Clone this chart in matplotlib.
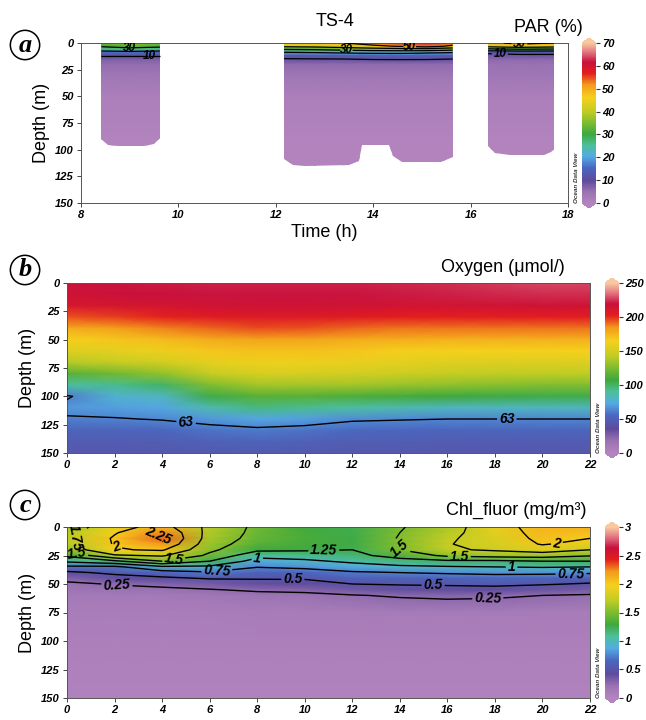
import numpy as np
import matplotlib
matplotlib.use("Agg")
import matplotlib.pyplot as plt
from matplotlib.colors import LinearSegmentedColormap
from matplotlib.patches import Polygon

plt.rcParams['font.family'] = ['Liberation Sans', 'DejaVu Sans']

# ---------------- data ----------------
# panel a: PAR (%) for three casts, one profile per time column
par_depth = [0, 3, 6, 9, 12, 16, 20, 30, 40, 50, 70, 90, 100, 115]
par_levels = [10, 20, 30, 40, 50]

cast1_time = [8.42, 9.0, 9.62]
cast1_par = [
    [33, 31, 25, 15, 10, 7, 5.5, 4, 3, 1.5, 1, 0.5, 0.5, 0.5],
    [36, 33, 27, 16, 10, 7, 5.5, 4, 3, 1.5, 1, 0.5, 0.5, 0.5],
    [34, 32, 25, 15, 10, 7, 5.5, 4, 3, 1.5, 1, 0.5, 0.5, 0.5],
]
cast1_bot_time = [8.42, 8.55, 8.75, 9.3, 9.5, 9.62]
cast1_bot_depth = [90, 96, 97, 97, 95, 89]

cast2_time = [12.17, 12.8, 13.4, 14.0, 14.6, 15.1, 15.63]
cast2_par = [
    [47, 42, 30, 19, 12, 9, 6, 4, 3, 1.5, 1, 0.5, 0.5, 0.5],
    [48, 43, 31, 20, 12.5, 9, 6, 4, 3, 1.5, 1, 0.5, 0.5, 0.5],
    [50, 45, 33, 21, 13, 9, 6, 4, 3, 1.5, 1, 0.5, 0.5, 0.5],
    [54, 48, 35, 22, 13.5, 9.5, 6, 4, 3, 1.5, 1, 0.5, 0.5, 0.5],
    [58, 51, 36, 22, 14, 9.5, 6, 4, 3, 1.5, 1, 0.5, 0.5, 0.5],
    [63, 54, 36, 21, 13.5, 9.5, 6, 4, 3, 1.5, 1, 0.5, 0.5, 0.5],
    [55, 48, 33, 20, 13, 9, 6, 4, 3, 1.5, 1, 0.5, 0.5, 0.5],
]
cast2_bot_time = [12.17, 12.35, 12.6, 13.5, 13.7, 13.76, 14.32, 14.4, 14.6, 15.4, 15.63]
cast2_bot_depth = [109, 114, 115, 114, 111, 95.5, 95.5, 106, 111.5, 111.5, 107]

cast3_time = [16.36, 17.0, 17.71]
cast3_par = [
    [48, 43, 27, 11, 8, 6, 5, 4, 3, 1.5, 1, 0.5, 0.5, 0.5],
    [52, 46, 29, 12, 8.5, 6, 5, 4, 3, 1.5, 1, 0.5, 0.5, 0.5],
    [50, 44, 28, 12, 8.5, 6, 5, 4, 3, 1.5, 1, 0.5, 0.5, 0.5],
]
cast3_bot_time = [16.36, 16.5, 16.8, 17.5, 17.65, 17.71]
cast3_bot_depth = [97, 103, 105, 105, 102, 99]

# panel b: oxygen (umol/l), one profile per hour column
oxy_time = [0, 2, 4, 6, 8, 10, 12, 14, 16, 18, 20, 22]
oxy_depth = [0, 10, 20, 30, 40, 50, 60, 70, 80, 90, 100, 110, 120, 130, 140, 150]
oxy_values = [
    [218, 215, 210, 195, 178, 165, 155, 140, 115, 88, 61, 68, 61, 52, 47, 44],
    [220, 218, 212, 198, 182, 168, 158, 145, 122, 92, 78, 70, 62, 52, 47, 44],
    [221, 219, 213, 202, 188, 172, 162, 150, 130, 100, 82, 72, 64, 54, 48, 44],
    [222, 220, 215, 205, 192, 178, 168, 158, 145, 125, 105, 85, 68, 58, 50, 45],
    [222, 220, 216, 207, 196, 180, 170, 162, 152, 135, 115, 95, 72, 60, 52, 46],
    [222, 220, 216, 207, 195, 180, 170, 162, 152, 135, 115, 92, 70, 58, 50, 45],
    [222, 220, 215, 205, 192, 178, 168, 160, 150, 135, 112, 88, 65, 55, 48, 44],
    [223, 221, 214, 203, 190, 177, 166, 158, 148, 132, 110, 85, 64, 54, 48, 44],
    [224, 222, 214, 203, 190, 176, 165, 156, 145, 130, 108, 82, 63, 53, 47, 44],
    [226, 223, 215, 203, 190, 176, 165, 155, 143, 128, 106, 82, 63, 53, 47, 44],
    [228, 224, 216, 204, 190, 176, 165, 155, 142, 126, 105, 82, 63, 53, 47, 44],
    [228, 224, 216, 204, 190, 176, 165, 155, 142, 126, 105, 82, 63, 53, 47, 44],
]

# panel c: chlorophyll fluorescence (mg/m3)
chl_time = [0, 2, 4, 6, 8, 10, 12, 14, 16, 18, 20, 22]
chl_depth = [0, 5, 10, 15, 20, 25, 30, 35, 40, 45, 50, 55, 60, 75, 100, 150]
chl_levels = [0.25, 0.5, 0.75, 1, 1.25, 1.5, 1.75, 2, 2.25]
chl_values = [
    [1.62, 1.68, 1.7, 1.68, 1.6, 1.3, 1.05, 0.7, 0.45, 0.3, 0.22, 0.17, 0.13, 0.09, 0.06, 0.03],
    [1.9, 1.98, 2.03, 2.02, 1.98, 1.72, 1.2, 0.7, 0.55, 0.4, 0.26, 0.2, 0.14, 0.09, 0.06, 0.03],
    [2.1, 2.24, 2.3, 2.22, 2.03, 1.78, 1.5, 0.95, 0.65, 0.45, 0.3, 0.21, 0.14, 0.09, 0.06, 0.03],
    [1.68, 1.66, 1.64, 1.6, 1.55, 1.45, 1.25, 0.95, 0.72, 0.52, 0.35, 0.24, 0.16, 0.09, 0.06, 0.03],
    [1.45, 1.44, 1.42, 1.38, 1.3, 1.08, 0.9, 0.76, 0.62, 0.52, 0.4, 0.28, 0.19, 0.1, 0.06, 0.03],
    [1.3, 1.32, 1.33, 1.32, 1.28, 1.12, 0.95, 0.8, 0.64, 0.52, 0.42, 0.3, 0.2, 0.1, 0.06, 0.03],
    [1.25, 1.26, 1.27, 1.27, 1.25, 1.18, 1.05, 0.88, 0.72, 0.6, 0.5, 0.36, 0.24, 0.1, 0.06, 0.03],
    [1.48, 1.5, 1.52, 1.52, 1.5, 1.35, 1.15, 0.95, 0.75, 0.6, 0.52, 0.4, 0.27, 0.11, 0.06, 0.03],
    [1.65, 1.68, 1.72, 1.74, 1.72, 1.55, 1.2, 0.98, 0.78, 0.62, 0.53, 0.42, 0.29, 0.11, 0.06, 0.03],
    [1.9, 1.88, 1.85, 1.82, 1.78, 1.6, 1.2, 1.0, 0.8, 0.65, 0.55, 0.42, 0.28, 0.11, 0.06, 0.03],
    [2.1, 2.08, 2.06, 2.02, 1.86, 1.62, 1.25, 1.02, 0.8, 0.63, 0.52, 0.38, 0.25, 0.1, 0.06, 0.03],
    [2.12, 2.06, 2.0, 1.9, 1.75, 1.52, 1.25, 1.0, 0.78, 0.6, 0.48, 0.35, 0.23, 0.1, 0.06, 0.03],
]

# ODV-like colour scale
odv = LinearSegmentedColormap.from_list("odv", [
    (0.00, '#b384be'), (0.07, '#9a72b2'), (0.14, '#5e4b9c'), (0.22, '#4a68c0'),
    (0.29, '#55aae4'), (0.36, '#4cbf9c'), (0.43, '#3ea83e'), (0.50, '#7cbc30'),
    (0.57, '#c0cc24'), (0.66, '#f5d01c'), (0.74, '#f39a1c'), (0.81, '#e31e1e'),
    (0.88, '#c8103c'), (0.94, '#e0707e'), (1.00, '#f8c8a0')])

fig = plt.figure(figsize=(6.46, 7.2), dpi=100)


def style_axes(ax, xmin, xmax, xticks):
    ax.set_xlim(xmin, xmax)
    ax.set_ylim(150, 0)
    ax.set_xticks(xticks)
    ax.set_yticks([0, 25, 50, 75, 100, 125, 150])
    for lab in ax.get_xticklabels() + ax.get_yticklabels():
        lab.set_fontweight('bold')
        lab.set_fontstyle('italic')
        lab.set_fontsize(8)
    ax.tick_params(length=3, width=0.7, color='#444444', pad=2)
    for s in ax.spines.values():
        s.set_color('#555555')
        s.set_linewidth(0.7)
    ax.set_ylabel('Depth (m)', fontsize=13, labelpad=4)


def add_cbar(mesh, rect, ticks):
    cax = fig.add_axes(rect)
    cb = fig.colorbar(mesh, cax=cax, ticks=ticks, extend='both', extendfrac=0.03, format='%g')
    cb.outline.set_visible(False)
    cax.tick_params(length=3, width=0.8, color='#333333', pad=1.5)
    for lab in cax.get_yticklabels():
        lab.set_fontweight('bold')
        lab.set_fontstyle('italic')
        lab.set_fontsize(8)
    return cb


def labelled_contours(ax, X, Y, Z, levels, label_levels, positions, fontsize, lw, zorder=3):
    # plain lines for unlabelled levels, labelled set drawn separately
    plain = [lv for lv in levels if lv not in label_levels]
    if plain:
        ax.contour(X, Y, Z, levels=plain, colors='black', linewidths=lw, zorder=zorder)
    cs = ax.contour(X, Y, Z, levels=sorted(label_levels), colors='black',
                    linewidths=lw, zorder=zorder)
    txt = ax.clabel(cs, fmt='%g', inline=True, fontsize=fontsize, inline_spacing=2,
                    manual=positions)
    for t in txt:
        t.set_fontweight('bold')
        t.set_fontstyle('italic')


def panel_letter(x, y, letter):
    fig.text(x, y, letter, fontsize=19, fontweight='bold', fontstyle='italic',
             family=['Liberation Serif', 'DejaVu Serif'], ha='center', va='center',
             bbox=dict(boxstyle='circle,pad=0.12', fc='white', ec='black', lw=1.1))


def odv_tag(ax):
    ax.text(1.012, 0.0, 'Ocean Data View', transform=ax.transAxes, rotation=90,
            fontsize=4.5, fontweight='bold', fontstyle='italic', ha='left', va='bottom',
            color='#333333')


# ---------------- panel a ----------------
axa = fig.add_axes([81 / 646, 1 - 203 / 720, 487 / 646, 160 / 720])
par_norm = plt.Normalize(0, 70)
casts = [(cast1_time, cast1_par, cast1_bot_time, cast1_bot_depth,
          [10, 30], [(9.4, 11), (9.0, 4)]),
         (cast2_time, cast2_par, cast2_bot_time, cast2_bot_depth,
          [30, 50], [(13.45, 6), (14.75, 3)]),
         (cast3_time, cast3_par, cast3_bot_time, cast3_bot_depth,
          [10, 50], [(16.6, 10), (17.0, 1)])]
for t, prof, bt, bd, lab_levels, lab_pos in casts:
    T, D = np.meshgrid(t, par_depth)
    vals = np.array(prof).T
    outline = [(t[0], 0), (t[-1], 0)] + list(zip(bt[::-1], bd[::-1]))
    clip = Polygon(outline, closed=True, transform=axa.transData, fc='none', ec='none')
    axa.add_patch(clip)
    mesh_a = axa.pcolormesh(T, D, vals, cmap=odv, norm=par_norm, shading='gouraud', zorder=1)
    mesh_a.set_clip_path(clip)
    labelled_contours(axa, T, D, vals, par_levels, lab_levels, lab_pos, 8.5, 0.9)
style_axes(axa, 8, 18, [8, 10, 12, 14, 16, 18])
axa.set_xlabel('Time (h)', fontsize=13, labelpad=3)
odv_tag(axa)
add_cbar(mesh_a, [582 / 646, 1 - 208 / 720, 14 / 646, 170 / 720], [0, 10, 20, 30, 40, 50, 60, 70])
fig.text(335 / 646, 1 - 22 / 720, 'TS-4', fontsize=13, ha='center', va='center')
fig.text(583 / 646, 1 - 28 / 720, 'PAR (%)', fontsize=13, ha='right', va='center')
panel_letter(25 / 646, 1 - 45 / 720, 'a')

# ---------------- panel b ----------------
axb = fig.add_axes([67 / 646, 1 - 453 / 720, 523 / 646, 170 / 720])
T, D = np.meshgrid(oxy_time, oxy_depth)
ox = np.array(oxy_values).T
mesh_b = axb.pcolormesh(T, D, ox, cmap=odv, norm=plt.Normalize(0, 250), shading='gouraud')
labelled_contours(axb, T, D, ox, [63], [63], [(5.0, 125), (18.5, 120)], 10, 1.0)
style_axes(axb, 0, 22, list(range(0, 23, 2)))
odv_tag(axb)
add_cbar(mesh_b, [605 / 646, 1 - 458 / 720, 14 / 646, 180 / 720], [0, 50, 100, 150, 200, 250])
fig.text(565 / 646, 1 - 268 / 720, 'Oxygen (\u03bcmol/)', fontsize=13, ha='right', va='center')
panel_letter(25 / 646, 1 - 270 / 720, 'b')

# ---------------- panel c ----------------
axc = fig.add_axes([67 / 646, 1 - 698 / 720, 523 / 646, 171 / 720])
T, D = np.meshgrid(chl_time, chl_depth)
ch = np.array(chl_values).T
mesh_c = axc.pcolormesh(T, D, ch, cmap=odv, norm=plt.Normalize(0, 3), shading='gouraud')
chl_label_pos = [(3.7, 3), (2.1, 14), (0.4, 10), (0.4, 24.5), (4.5, 30), (8.0, 27),
                 (6.3, 38), (2.1, 51), (9.5, 46.5), (10.8, 17.5), (14.0, 19),
                 (16.5, 22), (20.6, 13), (18.7, 36), (21.2, 40), (15.4, 53.5), (17.7, 61)]
labelled_contours(axc, T, D, ch, chl_levels, chl_levels, chl_label_pos, 10, 1.0)
style_axes(axc, 0, 22, list(range(0, 23, 2)))
odv_tag(axc)
add_cbar(mesh_c, [605 / 646, 1 - 703 / 720, 14 / 646, 181 / 720], [0, 0.5, 1, 1.5, 2, 2.5, 3])
fig.text(587 / 646, 1 - 510 / 720, 'Chl_fluor (mg/m\u00b3)', fontsize=13, ha='right', va='center')
panel_letter(25 / 646, 1 - 505 / 720, 'c')

fig.savefig('out.png', dpi=100, facecolor='white')
